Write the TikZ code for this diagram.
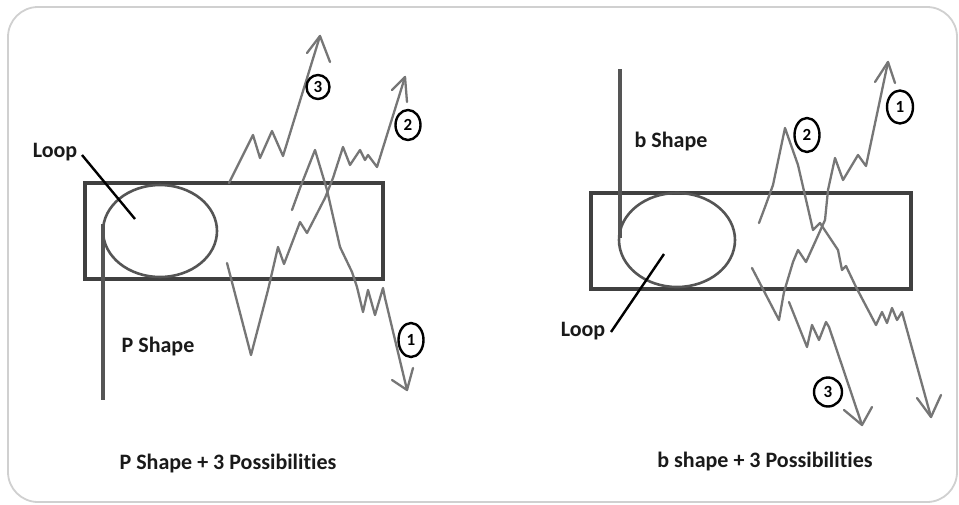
\documentclass[tikz,border=0pt]{standalone}
\usepackage{fontspec}
\setmainfont[Ligatures=NoCommon]{Carlito}
\usetikzlibrary{shapes.geometric}
\definecolor{frame}{HTML}{D0D0D0}
\definecolor{boxc}{HTML}{404040}
\definecolor{loopc}{HTML}{555555}
\definecolor{pathc}{HTML}{767676}
\definecolor{txt}{HTML}{1A1A1A}
\tikzset{
  outer/.style={draw=frame,line width=1.8pt,rounded corners=30pt},
  rangebox/.style={draw=boxc,line width=3.4pt},
  loopring/.style={draw=loopc,line width=2.6pt},
  stem/.style={draw=loopc,line width=3.6pt},
  wave/.style={draw=pathc,line width=2.3pt,line join=round,line cap=round},
  pointer/.style={draw=black,line width=2.4pt},
  lbl/.style={text=txt,font=\bfseries\fontsize{22}{22}\selectfont,inner sep=0pt},
  numc/.style={ellipse,draw=black,line width=2.4pt,inner sep=0pt,text=black,
     font=\bfseries\fontsize{17}{17}\selectfont}
}
\begin{document}
\begin{tikzpicture}[x=1pt,y=-1pt]
\useasboundingbox (0,0) rectangle (959,504);
\fill[white] (0,0) rectangle (959,504);
\draw[outer] (8,7) rectangle (957,502);

% ---------------- Left panel: P shape ----------------
\draw[rangebox] (85,183) rectangle (383,279);
\draw[loopring] (160,231) ellipse (57 and 46);
\coordinate (ps1) at (103,224);
\coordinate (ps2) at (103,400);
\draw[stem] (ps1) -- (ps2);

\node[lbl] (loopL) at (55,152) {Loop};
\coordinate (loopLend) at (135,219);
\draw[pointer] (82,155) -- (loopLend);
\node[lbl] (pshape) at (158,347) {P Shape};
\node[lbl] (titleL) at (228,464) {P Shape + 3 Possibilities};

% path 3 (left)
\coordinate (tL3) at (320,36);
\draw[wave] (229,183) -- (253,135) -- (260,158) -- (272,131) -- (283,156) -- (tL3);
\draw[wave] (307,53) -- (tL3) -- (330,62);
\node[numc,minimum width=23pt,minimum height=24pt] (nL3) at (318,87) {3};

% path 2 (left)
\coordinate (tL2) at (405,77);
\draw[wave] (227,263) -- (251,355) -- (268,290) -- (278,247) -- (284,264) -- (300,222)
  -- (307,233) -- (325,198) -- (333,178) -- (343,147) -- (350,165) -- (360,150)
  -- (365,160) -- (368,155) -- (377,167) -- (tL2);
\draw[wave] (392,90) -- (tL2) -- (407,102);
\node[numc,minimum width=25pt,minimum height=30pt] (nL2) at (408,125) {2};

% path 1 (left)
\coordinate (tL1) at (407,390);
\draw[wave] (292,210) -- (300,188) -- (315,150) -- (327,190) -- (340,247) -- (352,272)
  -- (357,287) -- (363,312) -- (368,290) -- (375,315) -- (383,288) -- (385,298) -- (tL1);
\draw[wave] (392,380) -- (tL1) -- (413,368);
\node[numc,minimum width=25pt,minimum height=34pt] (nL1) at (411,340) {1};

% ---------------- Right panel: b shape ----------------
\draw[rangebox] (591,193) rectangle (911,289);
\draw[loopring] (677,240) ellipse (58 and 47);
\coordinate (bs1) at (620,69);
\coordinate (bs2) at (620,238);
\draw[stem] (bs1) -- (bs2);

\node[lbl] (bshape) at (671,142) {b Shape};
\node[lbl] (loopR) at (583,331) {Loop};
\coordinate (loopRend) at (664,254);
\draw[pointer] (611,332) -- (loopRend);
\node[lbl] (titleR) at (765,462) {b shape + 3 Possibilities};

% path 1 (right)
\coordinate (tR1) at (888,62);
\draw[wave] (752,268) -- (779,320) -- (784,292) -- (793,262) -- (798,250) -- (806,262)
  -- (816,240) -- (825,220) -- (828,190) -- (835,158) -- (843,180) -- (858,155)
  -- (866,166) -- (tR1);
\draw[wave] (875,82) -- (tR1) -- (895,83);
\node[numc,minimum width=26pt,minimum height=33pt] (nR1) at (900,107) {1};

% path 2 (right)
\coordinate (tR2) at (931,417);
\draw[wave] (759,223) -- (765,207) -- (773,185) -- (785,128) -- (798,165) -- (813,230)
  -- (820,223) -- (838,250) -- (842,270) -- (846,266) -- (856,287) -- (876,325)
  -- (882,312) -- (887,323) -- (892,308) -- (897,320) -- (902,312) -- (tR2);
\draw[wave] (917,398) -- (tR2) -- (941,395);
\node[numc,minimum width=25pt,minimum height=34pt] (nR2) at (807,135) {2};

% path 3 (right)
\coordinate (tR3) at (862,425);
\draw[wave] (789,302) -- (807,347) -- (812,325) -- (819,340) -- (826,322) -- (829,327) -- (tR3);
\draw[wave] (844,410) -- (tR3) -- (872,407);
\node[numc,minimum width=28pt,minimum height=29pt] (nR3) at (828,392) {3};
\end{tikzpicture}
\end{document}
